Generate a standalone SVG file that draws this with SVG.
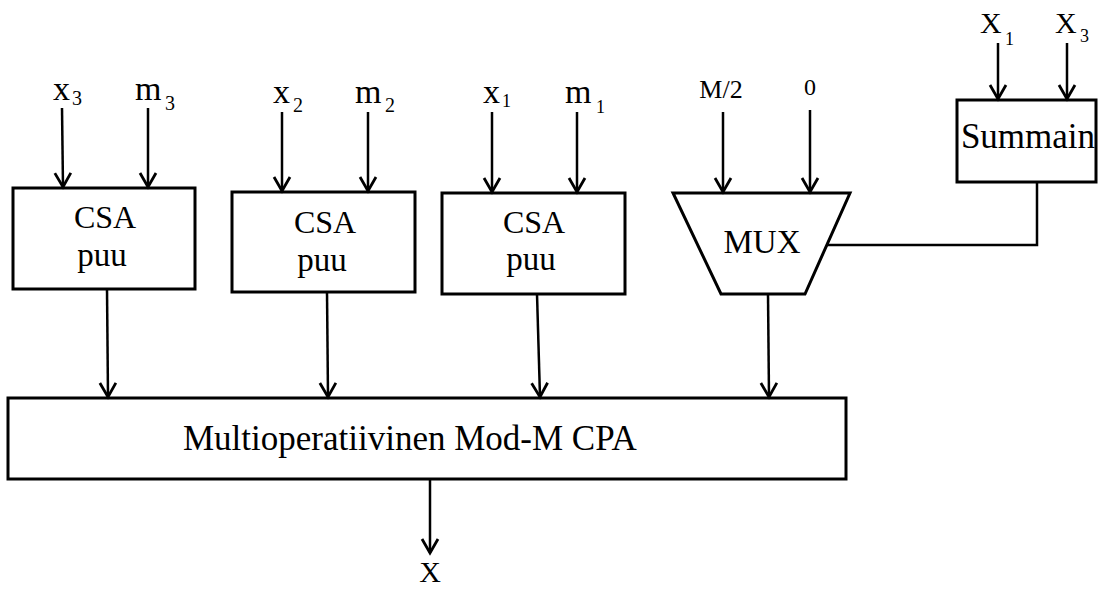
<svg xmlns="http://www.w3.org/2000/svg" width="1102" height="589" viewBox="0 0 1102 589">
<style>
.box{fill:#fff;stroke:#000;stroke-width:3}
.ln{fill:none;stroke:#000;stroke-width:2.5}
text{font-family:'Liberation Serif','Times New Roman',serif;fill:#000}
.c{text-anchor:middle}
</style>
<defs>
<marker id="ah" markerUnits="userSpaceOnUse" markerWidth="24" markerHeight="24" viewBox="-16 -12 18 24" refX="0" refY="0" orient="auto">
<path d="M-14,-8 L0,0 L-14,8" fill="none" stroke="#000" stroke-width="2.8"/>
</marker>
</defs>
<rect width="1102" height="589" fill="#fff"/>

<g id="labels">
<text x="53" y="100" font-size="34">x</text><text x="72" y="105" font-size="20">3</text>
<text x="135" y="100" font-size="34">m</text><text x="165" y="110" font-size="20">3</text>
<text x="273" y="103" font-size="34">x</text><text x="293" y="112" font-size="20">2</text>
<text x="355" y="103" font-size="34">m</text><text x="385" y="112" font-size="20">2</text>
<text x="483" y="103" font-size="34">x</text><text x="502" y="107" font-size="18">1</text>
<text x="565" y="103" font-size="34">m</text><text x="596" y="113" font-size="18">1</text>
<text x="721" y="98" font-size="26" class="c">M/2</text>
<text x="810" y="95" font-size="24" class="c">0</text>
<text x="980" y="33" font-size="30">X</text><text x="1005" y="45" font-size="18">1</text>
<text x="1055" y="33" font-size="30">X</text><text x="1080" y="42" font-size="18">3</text>
<text x="430" y="582" font-size="30" class="c">X</text>
</g>

<g id="csa1">
<rect class="box" x="13" y="188" width="182" height="101"/>
<text class="c" x="105" y="228" font-size="32">CSA</text>
<text class="c" x="102" y="266" font-size="33">puu</text>
</g>
<g id="csa2">
<rect class="box" x="232" y="192" width="183" height="100"/>
<text class="c" x="325" y="233" font-size="32">CSA</text>
<text class="c" x="322" y="271" font-size="33">puu</text>
</g>
<g id="csa3">
<rect class="box" x="442" y="193" width="183" height="101"/>
<text class="c" x="534" y="233" font-size="32">CSA</text>
<text class="c" x="531" y="270" font-size="33">puu</text>
</g>
<g id="mux">
<path class="box" d="M673,193 L850,193 L805,294 L721,294 Z"/>
<text class="c" x="762" y="253" font-size="33">MUX</text>
</g>
<g id="summain">
<rect class="box" x="957" y="100" width="139" height="82"/>
<text class="c" x="1028" y="148" font-size="35">Summain</text>
</g>
<g id="cpa">
<rect class="box" x="8" y="398" width="838" height="81"/>
<text x="183" y="450" font-size="35">Multioperatiivinen Mod-M CPA</text>
</g>

<g id="connectors" class="ln">
<path d="M62,108 L63,187" marker-end="url(#ah)"/>
<path d="M148,108 L148,187" marker-end="url(#ah)"/>
<path d="M282,112 L282,191" marker-end="url(#ah)"/>
<path d="M368,112 L368,191" marker-end="url(#ah)"/>
<path d="M492,112 L492,192" marker-end="url(#ah)"/>
<path d="M577,112 L577,192" marker-end="url(#ah)"/>
<path d="M723,112 L723,192" marker-end="url(#ah)"/>
<path d="M810,110 L810,192" marker-end="url(#ah)"/>
<path d="M998,43 L998,99" marker-end="url(#ah)"/>
<path d="M1067,43 L1067,99" marker-end="url(#ah)"/>
<path d="M107,289 L108,397" marker-end="url(#ah)"/>
<path d="M327,292 L328,397" marker-end="url(#ah)"/>
<path d="M537,294 L540,397" marker-end="url(#ah)"/>
<path d="M768,294 L769,397" marker-end="url(#ah)"/>
<path d="M430,479 L430,553" marker-end="url(#ah)"/>
<path d="M1037,182 L1037,245 L827,245"/>
</g>
</svg>
